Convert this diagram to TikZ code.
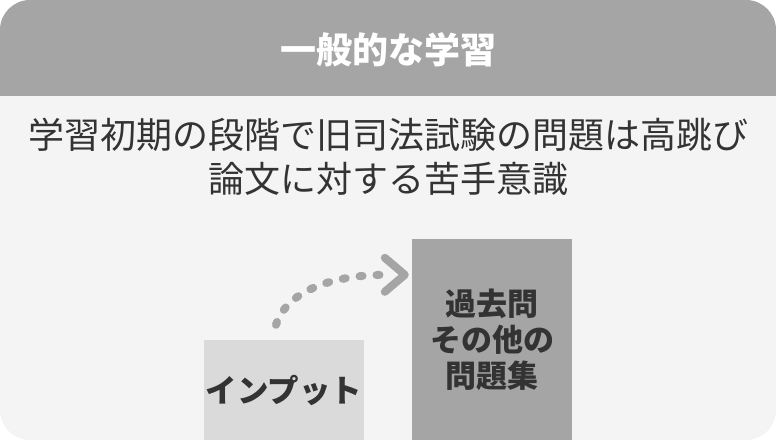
\documentclass[tikz,border=0pt]{standalone}
\usepackage{fontspec}
\setmainfont{Noto Sans CJK JP}
\definecolor{headgray}{HTML}{A5A5A5}
\definecolor{bodygray}{HTML}{F4F4F4}
\definecolor{lightbox}{HTML}{DADADA}
\definecolor{textgray}{HTML}{333333}
\begin{document}
\begin{tikzpicture}[x=1pt,y=-1pt,
  titletext/.style={text=white, inner sep=0pt, font=\fontsize{36}{44}\selectfont\bfseries},
  bodytext/.style={text=textgray, inner sep=0pt, font=\fontsize{36}{44}\selectfont},
  inbox/.style={fill=lightbox, text=textgray, minimum width=160pt, minimum height=100pt, inner sep=0pt, font=\fontsize{31.5}{36}\selectfont\bfseries},
  pastbox/.style={fill=headgray, text=textgray, minimum width=160pt, minimum height=201pt, inner sep=0pt, align=center, font=\fontsize{31}{36}\selectfont\bfseries},
  dotline/.style={draw=headgray, line width=8pt, line cap=round, dash pattern=on 3pt off 14pt},
  chev/.style={draw=headgray, line width=8pt, line cap=round, line join=round}]
\useasboundingbox (0,0) rectangle (776,440);
\begin{scope}
  \clip[rounded corners=30pt] (0,0) rectangle (776,440);
  \fill[bodygray] (0,0) rectangle (776,440);
  \fill[headgray] (0,0) rectangle (776,96);
\end{scope}
\node[titletext] (title) at (388,50) {一般的な学習};
\node[bodytext] (l1) at (388,135) {学習初期の段階で旧司法試験の問題は高跳び};
\node[bodytext] (l2) at (388,179) {論文に対する苦手意識};
\node[inbox] (inp) at (284,390) {インプット};
\node[pastbox] (past) at (492,339.5) {過去問\\その他の\\問題集};
\coordinate (start) at ([xshift=-8pt,yshift=15pt]inp.north);
\coordinate (tip) at ([xshift=-7pt,yshift=-36pt]past.north west);
\coordinate (cend) at ([xshift=-18pt]tip);
\draw[dotline] (start) .. controls +(10,-32) and +(-58,0) .. (cend);
\draw[chev] ([xshift=-20pt,yshift=17pt]tip) -- (tip) -- ([xshift=-20pt,yshift=-17pt]tip);
\end{tikzpicture}
\end{document}
